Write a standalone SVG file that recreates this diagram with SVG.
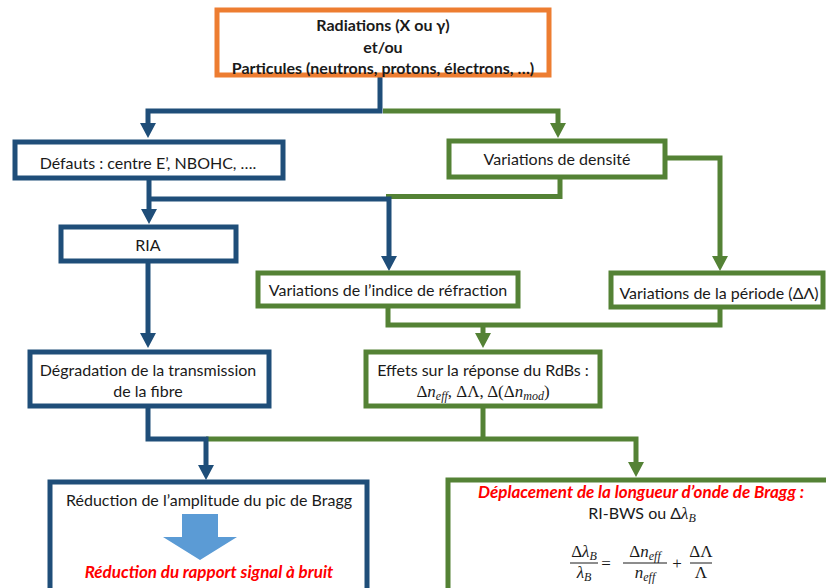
<svg xmlns="http://www.w3.org/2000/svg" width="826" height="588" viewBox="0 0 826 588">
<style>
.t{font-family:Lato,"Liberation Sans",sans-serif;font-size:16px;fill:#1a1a1a;text-anchor:middle}
.b{font-weight:bold}
.red{font-family:Lato,"Liberation Sans",sans-serif;font-size:17px;font-weight:bold;font-style:italic;fill:#ff0000;text-anchor:middle}
.m{font-family:"Liberation Serif","DejaVu Serif",serif;font-size:17px;fill:#1a1a1a;text-anchor:middle}
.i{font-style:italic}
.sub{font-style:italic;font-size:12px}
.boxB{fill:#fff;stroke:#1f4e79;stroke-width:5}
.boxG{fill:#fff;stroke:#548235;stroke-width:5}
.boxO{fill:#fff;stroke:#ed7d31;stroke-width:5}
.cB{fill:none;stroke:#1f4e79;stroke-width:5}
.cG{fill:none;stroke:#548235;stroke-width:5}
.bar{stroke:#1a1a1a;stroke-width:1}
</style>
<defs>
<marker id="aB" markerUnits="userSpaceOnUse" markerWidth="16" markerHeight="18" viewBox="0 -8 16 16" refX="0" refY="0" orient="auto" overflow="visible"><path d="M0,-8 L15,0 L0,8 Z" fill="#1f4e79"/></marker>
<marker id="aG" markerUnits="userSpaceOnUse" markerWidth="16" markerHeight="18" viewBox="0 -8 16 16" refX="0" refY="0" orient="auto" overflow="visible"><path d="M0,-8 L15,0 L0,8 Z" fill="#548235"/></marker>
</defs>
<rect width="826" height="588" fill="#fff"/>
<g id="connectors">
<path class="cG" d="M383,111 H558 V123" marker-end="url(#aG)"/>
<path class="cG" d="M665,158 H720 V256" marker-end="url(#aG)"/>
<path class="cG" d="M560,177 V196.5 H386"/>
<path class="cG" d="M388,306 V325 H720 V307"/>
<path class="cG" d="M483,325 V333" marker-end="url(#aG)"/>
<path class="cG" d="M206,439 H636 V462" marker-end="url(#aG)"/>
<path class="cG" d="M483,406 V439"/>
<path class="cB" d="M380,77 V111 H148 V123" marker-end="url(#aB)"/>
<path class="cB" d="M149,177 V209" marker-end="url(#aB)"/>
<path class="cB" d="M149,199 H389 V256" marker-end="url(#aB)"/>
<path class="cB" d="M148,261 V333" marker-end="url(#aB)"/>
<path class="cB" d="M148,406 V439 H206 V465" marker-end="url(#aB)"/>
</g>
<g id="source">
<rect class="boxO" x="217" y="10" width="332" height="65"/>
<text class="t b" x="383" y="31">Radiations (X ou γ)</text>
<text class="t b" x="383" y="53">et/ou</text>
<text class="t b" x="383" y="74">Particules (neutrons, protons, électrons, …)</text>
</g>
<g id="defauts">
<rect class="boxB" x="15" y="142" width="268" height="36"/>
<text class="t" x="148" y="169">Défauts : centre E’, NBOHC, ….</text>
</g>
<g id="densite">
<rect class="boxG" x="449" y="141" width="216" height="36"/>
<text class="t" x="557" y="165">Variations de densité</text>
</g>
<g id="ria">
<rect class="boxB" x="61" y="227" width="175" height="34"/>
<text class="t" x="148" y="251">RIA</text>
</g>
<g id="indice">
<rect class="boxG" x="258" y="273" width="260" height="33"/>
<text class="t" x="388" y="296">Variations de l’indice de réfraction</text>
</g>
<g id="periode">
<rect class="boxG" x="611" y="273" width="212" height="34"/>
<text class="t" x="719" y="299">Variations de la période (ΔΛ)</text>
</g>
<g id="degradation">
<rect class="boxB" x="30" y="352" width="239" height="54"/>
<text class="t" x="148" y="376">Dégradation de la transmission</text>
<text class="t" x="148" y="397">de la fibre</text>
</g>
<g id="effets">
<rect class="boxG" x="366" y="352" width="234" height="54"/>
<text class="t" x="483" y="376">Effets sur la réponse du RdBs :</text>
<text class="m" x="483" y="397">Δ<tspan class="i">n</tspan><tspan class="sub" dy="3">eff</tspan><tspan dy="-3">, ΔΛ, Δ(Δ</tspan><tspan class="i">n</tspan><tspan class="sub" dy="3">mod</tspan><tspan dy="-3">)</tspan></text>
</g>
<g id="reduction">
<rect class="boxB" x="50" y="482" width="317" height="120"/>
<text class="t" x="209" y="506">Réduction de l’amplitude du pic de Bragg</text>
<polygon points="182,514 218,514 218,537 237,537 200,560 163,537 182,537" fill="#5b9bd5"/>
<text class="red" x="209" y="578">Réduction du rapport signal à bruit</text>
</g>
<g id="deplacement">
<rect class="boxG" x="448" y="480" width="400" height="130"/>
<text class="red" x="641" y="498">Déplacement de la longueur d’onde de Bragg :</text>
<text class="t" x="642" y="519">RI-BWS ou Δ<tspan class="i" font-family="Liberation Serif,serif" font-size="17">λ</tspan><tspan class="sub" font-family="Liberation Serif,serif" dy="3">B</tspan></text>
<text class="m" x="584" y="557">Δ<tspan class="i">λ</tspan><tspan class="sub" dy="3">B</tspan></text>
<line class="bar" x1="570" y1="563" x2="598" y2="563"/>
<text class="m" x="584" y="578"><tspan class="i">λ</tspan><tspan class="sub" dy="3">B</tspan></text>
<text class="m" x="606" y="569">=</text>
<text class="m" x="645" y="557">Δ<tspan class="i">n</tspan><tspan class="sub" dy="3">eff</tspan></text>
<line class="bar" x1="623" y1="563" x2="667" y2="563"/>
<text class="m" x="645" y="578"><tspan class="i">n</tspan><tspan class="sub" dy="3">eff</tspan></text>
<text class="m" x="677" y="569">+</text>
<text class="m" x="701" y="557">ΔΛ</text>
<line class="bar" x1="690" y1="563" x2="712" y2="563"/>
<text class="m" x="701" y="578">Λ</text>
</g>
</svg>
